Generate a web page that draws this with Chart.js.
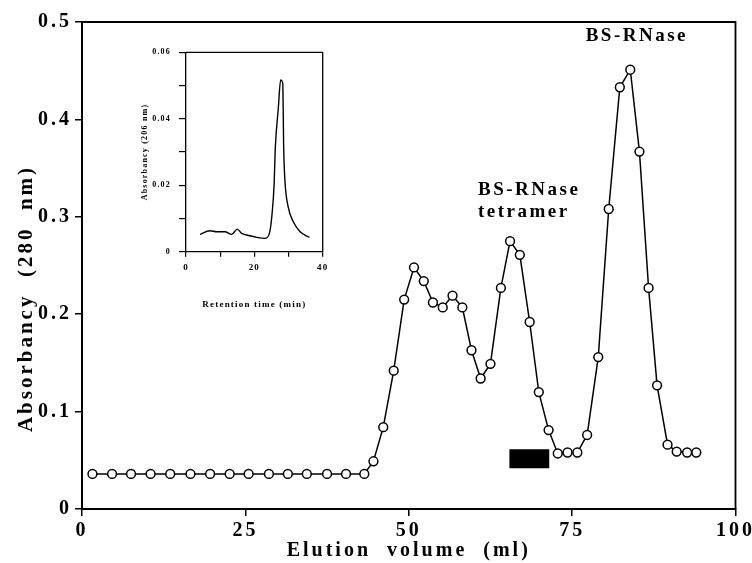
<!DOCTYPE html>
<html>
<head>
<meta charset="utf-8">
<script src="https://cdn.jsdelivr.net/npm/chart.js@4.4.0/dist/chart.umd.min.js"></script>
<style>
  html, body { margin: 0; padding: 0; background: #fff; }
  #wrap { position: relative; width: 752px; height: 563px; }
  #mainChart { position: absolute; left: 0; top: 0; }
  #insetChart { position: absolute; left: 130px; top: 40px; }
</style>
</head>
<body>
<div id="wrap">
  <canvas id="mainChart" width="752" height="563"></canvas>
  <canvas id="insetChart" width="205" height="270"></canvas>
</div>
<script>
// main gel filtration profile (elution volume in ml, absorbance at 280 nm)
const elutionVolume = [1.6, 4.6, 7.5, 10.5, 13.5, 16.6, 19.6, 22.6, 25.5, 28.6, 31.5, 34.4, 37.5, 40.4, 43.2,
  44.6, 46.1, 47.7, 49.3, 50.8, 52.3, 53.7, 55.2, 56.7, 58.2, 59.6, 61.0, 62.5, 64.1, 65.5, 67.0, 68.5, 69.9,
  71.4, 72.8, 74.3, 75.8, 77.3, 79.0, 80.6, 82.3, 83.9, 85.3, 86.7, 88.0, 89.6, 91.0, 92.6, 94.0];
const absorbance280 = [0.036, 0.036, 0.036, 0.036, 0.036, 0.036, 0.036, 0.036, 0.036, 0.036, 0.036, 0.036, 0.036, 0.036, 0.036,
  0.049, 0.084, 0.142, 0.215, 0.248, 0.234, 0.212, 0.207, 0.219, 0.207, 0.163, 0.134, 0.149, 0.227, 0.275, 0.261, 0.192, 0.120,
  0.081, 0.057, 0.058, 0.058, 0.076, 0.156, 0.308, 0.433, 0.451, 0.367, 0.227, 0.127, 0.066, 0.059, 0.058, 0.058];

// pooled fractions (black bar)
const poolRange = [65.4, 71.5];
const poolLevel = 0.0515;

// inset: HPLC trace (retention time in min, absorbance at 206 nm)
const retentionTime = [4.1, 7.0, 9.0, 11.4, 13.4, 15.0, 16.3, 18.7, 20.7, 23.1, 24.4, 25.1, 25.8, 26.1, 27.0,
  27.7, 28.3, 28.6, 29.0, 29.9, 31.4, 33.4, 36.1];
const absorbance206 = [0.0052, 0.0063, 0.0060, 0.0060, 0.0052, 0.0068, 0.0055, 0.0048, 0.0043, 0.0040, 0.0055,
  0.0105, 0.0206, 0.0306, 0.043, 0.0517, 0.0507, 0.0306, 0.0206, 0.0135, 0.009, 0.006, 0.0043];

Chart.defaults.font.family = '"Liberation Serif", "Times New Roman", serif';
Chart.defaults.font.weight = 'bold';
Chart.defaults.color = '#000';

// letter spacing + top/right frame
const framePlugin = {
  id: 'frame',
  beforeLayout(chart, args, opts) { chart.ctx.letterSpacing = opts.spacing; },
  beforeDraw(chart, args, opts) { chart.ctx.letterSpacing = opts.spacing; },
  afterDatasetsDraw(chart, args, opts) {
    const { ctx, chartArea: { left, top, right, bottom } } = chart;
    ctx.save();
    ctx.strokeStyle = '#000';
    ctx.lineWidth = opts.width;
    ctx.beginPath();
    ctx.moveTo(left, top);
    ctx.lineTo(right, top);
    ctx.lineTo(right, bottom);
    ctx.stroke();
    ctx.restore();
  }
};

const peakLabels = {
  id: 'peakLabels',
  afterDraw(chart) {
    const { ctx, scales: { x, y } } = chart;
    ctx.save();
    ctx.fillStyle = '#000';
    ctx.font = 'bold 19px "Liberation Serif"';
    ctx.letterSpacing = '2.5px';
    ctx.textBaseline = 'middle';
    ctx.textAlign = 'center';
    ctx.fillText('BS-RNase', x.getPixelForValue(84.9), y.getPixelForValue(0.486));
    ctx.textAlign = 'left';
    ctx.fillText('BS-RNase', x.getPixelForValue(60.6), y.getPixelForValue(0.327));
    ctx.fillText('tetramer', x.getPixelForValue(60.6), y.getPixelForValue(0.305));
    ctx.restore();
  }
};

const mainChart = new Chart(document.getElementById('mainChart'), {
  type: 'line',
  data: {
    datasets: [{
      data: elutionVolume.map((v, i) => ({ x: v, y: absorbance280[i] })),
      borderColor: '#000',
      borderWidth: 1.5,
      pointRadius: 4.4,
      pointBorderWidth: 1.5,
      pointBackgroundColor: '#fff',
      pointBorderColor: '#000',
      tension: 0
    }, {
      data: poolRange.map(v => ({ x: v, y: poolLevel })),
      borderColor: '#000',
      borderWidth: 19,
      borderCapStyle: 'butt',
      pointRadius: 0
    }]
  },
  plugins: [framePlugin, peakLabels],
  options: {
    responsive: false,
    animation: false,
    layout: { padding: { left: 14, top: 22, right: 16.5, bottom: 0 } },
    plugins: {
      legend: { display: false },
      tooltip: { enabled: false },
      frame: { width: 1.8, spacing: '3px' }
    },
    scales: {
      x: {
        type: 'linear', min: 0, max: 100,
        ticks: { stepSize: 25, font: { size: 20, weight: 'bold' }, padding: 3, maxRotation: 0, autoSkip: false },
        grid: { drawOnChartArea: false, color: '#000', tickLength: 7, lineWidth: 1.5 },
        border: { color: '#000', width: 2 },
        title: { display: true, text: 'Elution  volume  (ml)', font: { size: 20, weight: 'bold' }, padding: 0 },
        afterFit(s) { s.height = 54; s.paddingLeft = 0; s.paddingRight = 0; }
      },
      y: {
        min: 0, max: 0.5,
        ticks: {
          stepSize: 0.1, font: { size: 20, weight: 'bold' }, padding: 3,
          callback: v => v === 0 ? '0' : v.toFixed(1)
        },
        grid: { drawOnChartArea: false, color: '#000', tickLength: 7, lineWidth: 1.5 },
        border: { color: '#000', width: 2 },
        // trailing blanks push the rotated title a little below the axis centre, as in the original
        title: { display: true, text: 'Absorbancy  (280  nm)        ', font: { size: 21, weight: 'bold' }, padding: 0 },
        afterFit(s) { s.width = 68; s.paddingTop = 0; s.paddingBottom = 0; }
      }
    }
  }
});

const insetChart = new Chart(document.getElementById('insetChart'), {
  type: 'line',
  data: {
    datasets: [{
      data: retentionTime.map((t, i) => ({ x: t, y: absorbance206[i] })),
      borderColor: '#000',
      borderWidth: 1.4,
      pointRadius: 0,
      cubicInterpolationMode: 'monotone'
    }]
  },
  plugins: [framePlugin],
  options: {
    responsive: false,
    animation: false,
    layout: { padding: { left: 10, top: 12.3, right: 12.3, bottom: 0 } },
    plugins: {
      legend: { display: false },
      tooltip: { enabled: false },
      frame: { width: 1.3, spacing: '1.2px' }
    },
    scales: {
      x: {
        type: 'linear', min: 0, max: 40,
        ticks: { stepSize: 10, font: { size: 9, weight: 'bold' }, padding: 6, maxRotation: 0, autoSkip: false,
          callback: v => v % 20 === 0 ? String(v) : '' },
        grid: { drawOnChartArea: false, color: '#000', tickLength: 5, lineWidth: 1.2 },
        border: { color: '#000', width: 1.3 },
        title: { display: true, text: 'Retention time (min)', font: { size: 9, weight: 'bold' }, padding: 0 },
        afterFit(s) { s.height = 58.3; s.paddingLeft = 0; s.paddingRight = 0; }
      },
      y: {
        min: 0, max: 0.06,
        ticks: { stepSize: 0.01, font: { size: 8, weight: 'bold' }, padding: 8,
          callback: v => {
            const r = Math.round(v * 100);
            if (r === 0) return '0';
            return r % 2 === 0 ? (r / 100).toFixed(2) : '';
          } },
        grid: { drawOnChartArea: false, color: '#000', tickLength: 7, lineWidth: 1.2 },
        border: { color: '#000', width: 1.3 },
        title: { display: true, text: 'Absorbancy (206 nm)', font: { size: 8, weight: 'bold' }, padding: 0 },
        afterFit(s) { s.width = 46; s.paddingTop = 0; s.paddingBottom = 0; }
      }
    }
  }
});
</script>
</body>
</html>
